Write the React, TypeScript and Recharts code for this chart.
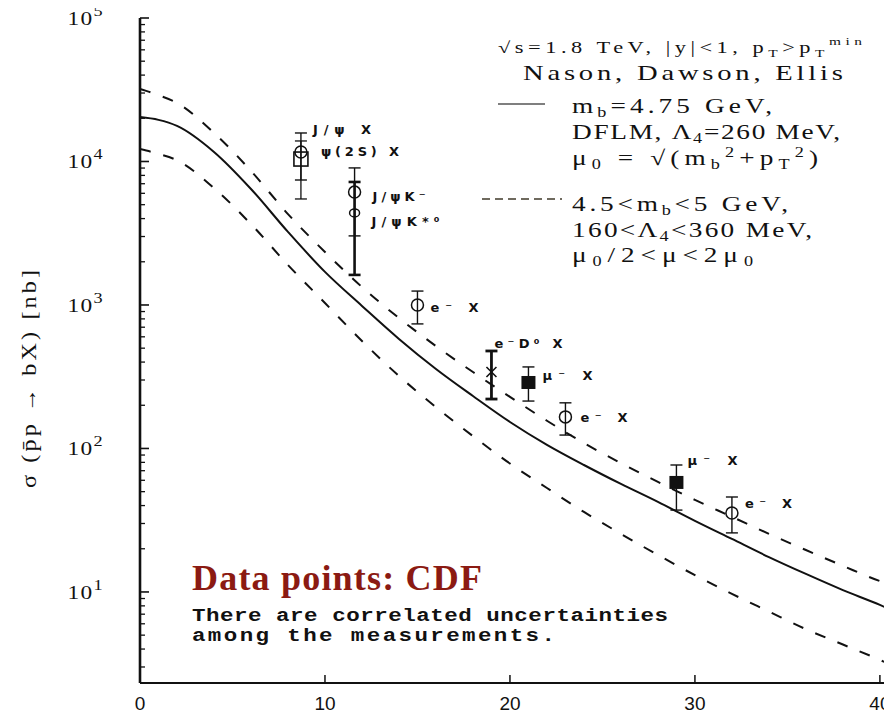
import React from 'react';
import { ComposedChart, Line, Scatter, ErrorBar, XAxis, YAxis } from 'recharts';

// theory curves (Nason, Dawson, Ellis), pT^min in GeV vs sigma in nb
const curvePt = [0, 1, 2, 4, 6, 8, 10, 12, 14, 16, 18, 20, 22, 24, 26, 28, 30, 32, 34, 36, 38, 40, 40.6];
const centralNb = [20400, 19500, 17700, 11650, 6430, 3230, 1700, 985, 580, 358, 232, 153, 106, 76.7, 56.6, 42.4, 31.3, 23.4, 17.5, 13.35, 10.3, 8.12, 7.5];
const upperNb = [32000, 29000, 25600, 15800, 8600, 4300, 2340, 1334, 811, 517, 341, 229, 156, 109, 79, 58.5, 43.8, 33.4, 25.4, 19.6, 15.2, 11.9, 11.2];
const lowerNb = [12200, 11300, 10200, 6530, 3660, 1900, 1033, 561, 320, 194, 122, 78.5, 53, 36.1, 25.4, 18.1, 13.1, 9.7, 7.3, 5.5, 4.3, 3.36, 3.1];

// CDF measurements, split by marker
const openCirclePts = [
  { pt: 8.7, sigma: 11650, lo: 7430, hi: 15800, label: 'J/ψ X' },
  { pt: 11.6, sigma: 6120, lo: 3030, hi: 9020, label: 'J/ψK⁻' },
  { pt: 15.0, sigma: 1000, lo: 738, hi: 1250, label: 'e⁻ X' },
  { pt: 23.0, sigma: 166, lo: 124, hi: 208, label: 'e⁻ X' },
  { pt: 32.0, sigma: 35.5, lo: 25.8, hi: 45.9, label: 'e⁻ X' },
];
const openSquarePts = [{ pt: 8.7, sigma: 10400, lo: 5480, hi: 13900, label: 'ψ(2S) X' }];
const ovalPts = [{ pt: 11.6, sigma: 4380, lo: 1620, hi: 7200, label: 'J/ψK*⁰' }];
const crossPts = [{ pt: 19.0, sigma: 341, lo: 221, hi: 478, label: 'e⁻D⁰ X' }];
const filledSquarePts = [
  { pt: 21.0, sigma: 286, lo: 214, hi: 370, label: 'μ⁻ X' },
  { pt: 29.0, sigma: 57.5, lo: 37.2, hi: 76.7, label: 'μ⁻ X' },
];

const xTicks = [0, 10, 20, 30, 40];
const yDecades = [10, 100, 1000, 10000, 100000];

const curveTable = curvePt.map((pt, i) => ({
  pt,
  central: centralNb[i],
  upper: upperNb[i],
  lower: lowerNb[i],
}));

const withErr = (rows: any[]) => rows.map((r) => ({ ...r, err: [r.sigma - r.lo, r.hi - r.sigma] }));

// minor log ticks 3..9 below 10, then 2..9 per decade
const yTicks: number[] = [];
[3, 4, 5, 6, 7, 8, 9].forEach((m) => yTicks.push(m));
yDecades.forEach((d) => {
  yTicks.push(d);
  if (d < 100000) for (let m = 2; m <= 9; m++) yTicks.push(d * m);
});

// label placement: dx, dy from marker centre, text width
const labelOffset: Record<string, [number, number, number]> = {
  'J/ψ X': [12, -18, 58],
  'ψ(2S) X': [20, -3, 78],
  'J/ψK⁻': [18, 9, 53],
  'J/ψK*⁰': [17, 13, 68],
  '15': [13, 7, 48],
  '19': [3, -24, 68],
  '21': [14, -3, 50],
  '23': [15, 5, 47],
  '29': [11, -18, 50],
  '32': [13, -5, 47],
};

const ink = '#111';
const serif = '"Liberation Serif", serif';

const PointLabel = ({ cx, cy, payload }: any) => {
  const off = labelOffset[payload.label] || labelOffset[String(payload.pt)] || [12, 0, 48];
  return (
    <text
      x={cx + off[0]}
      y={cy + off[1]}
      fontFamily='"DejaVu Sans", sans-serif'
      fontWeight="bold"
      fontSize={13}
      textLength={off[2]}
      lengthAdjust="spacing"
      fill={ink}
    >
      {payload.label}
    </text>
  );
};

const shapeOf = (kind: string) => (props: any) => {
  const { cx, cy } = props;
  let mark: React.ReactNode = null;
  if (kind === 'circle') mark = <circle cx={cx} cy={cy} r={6} fill="none" stroke={ink} strokeWidth={1.5} />;
  if (kind === 'square')
    mark = <rect x={cx - 7} y={cy - 7} width={14} height={14} fill="none" stroke={ink} strokeWidth={1.6} />;
  if (kind === 'oval') mark = <ellipse cx={cx} cy={cy} rx={5} ry={4} fill="none" stroke={ink} strokeWidth={1.5} />;
  if (kind === 'cross')
    mark = (
      <g stroke={ink} strokeWidth={1.6}>
        <line x1={cx - 5} y1={cy - 5} x2={cx + 5} y2={cy + 5} />
        <line x1={cx - 5} y1={cy + 5} x2={cx + 5} y2={cy - 5} />
      </g>
    );
  if (kind === 'filled') mark = <rect x={cx - 7} y={cy - 7} width={14} height={13} fill={ink} />;
  return (
    <g>
      {mark}
      <PointLabel {...props} />
    </g>
  );
};

const YTick = ({ x, y, payload }: any) => {
  const lg = Math.log10(payload.value);
  const exp = Math.round(lg);
  const major = Math.abs(lg - exp) < 1e-6;
  return (
    <g>
      <line x1={x} x2={x + (major ? 9 : 5)} y1={y} y2={y} stroke={ink} strokeWidth={major ? 1.6 : 1.3} />
      {major && (
        <text
          transform={`translate(${x - 36} ${y + 7}) scale(1.3 1)`}
          textAnchor="end"
          fontFamily={serif}
          fontSize={18}
          letterSpacing={1}
          fill={ink}
        >
          10
          <tspan dy={-9} fontSize={14}>
            {exp}
          </tspan>
        </text>
      )}
    </g>
  );
};

const XTick = ({ x, y, payload }: any) => (
  <g>
    {payload.value > 0 && <line x1={x} x2={x} y1={y} y2={y - 8} stroke={ink} strokeWidth={1.5} />}
    <text x={x} y={y + 27} textAnchor="middle" fontFamily='"Liberation Sans", sans-serif' fontSize={19} fill={ink}>
      {payload.value}
    </text>
  </g>
);

const TopTick = ({ x, y, payload }: any) =>
  payload.value > 0 ? <line x1={x} x2={x} y1={y} y2={y + 8} stroke={ink} strokeWidth={1.5} /> : <g />;

const ErrBars = ({ w }: { w: number }) => (
  <ErrorBar dataKey="err" direction="y" width={6} stroke={ink} strokeWidth={w} isAnimationActive={false} />
);

// text stretched horizontally to the width it has in the scan
const Wide = ({ x, y, w, sx, size, children, ...rest }: any) => (
  <text
    transform={`translate(${x} ${y}) scale(${sx} 1)`}
    fontSize={size}
    textLength={w / sx}
    lengthAdjust="spacing"
    {...rest}
  >
    {children}
  </text>
);

export default function App() {
  return (
    <div style={{ position: 'relative', width: 892, height: 719, margin: -8, background: '#fff' }}>
      <ComposedChart width={892} height={719} data={curveTable} margin={{ top: 18, right: 1, left: 0, bottom: 0 }}>
        <XAxis
          dataKey="pt"
          type="number"
          domain={[0, 40.6]}
          ticks={xTicks}
          allowDataOverflow
          height={36}
          tickSize={0}
          tickMargin={0}
          tickLine={false}
          axisLine={{ stroke: ink, strokeWidth: 2 }}
          tick={<XTick />}
          interval={0}
        />
        <XAxis
          xAxisId="top"
          orientation="top"
          dataKey="pt"
          type="number"
          domain={[0, 40.6]}
          ticks={xTicks}
          allowDataOverflow
          height={0}
          tickSize={0}
          tickMargin={0}
          tickLine={false}
          axisLine={{ stroke: '#333', strokeWidth: 1.5 }}
          tick={<TopTick />}
          interval={0}
        />
        <YAxis
          scale="log"
          type="number"
          domain={[2.32, 100000]}
          allowDataOverflow
          ticks={yTicks}
          interval={0}
          width={140}
          tickSize={0}
          tickMargin={0}
          tickLine={false}
          axisLine={{ stroke: ink, strokeWidth: 2.6 }}
          tick={<YTick />}
        />
        <Line dataKey="upper" type="monotone" stroke={ink} strokeWidth={2} strokeDasharray="11 13" dot={false} isAnimationActive={false} />
        <Line dataKey="lower" type="monotone" stroke={ink} strokeWidth={2} strokeDasharray="11 13" dot={false} isAnimationActive={false} />
        <Line dataKey="central" type="monotone" stroke={ink} strokeWidth={2} dot={false} isAnimationActive={false} />
        <Scatter data={withErr(openSquarePts)} dataKey="sigma" shape={shapeOf('square')} isAnimationActive={false}>
          {ErrBars({ w: 1.3 })}
        </Scatter>
        <Scatter data={withErr(openCirclePts)} dataKey="sigma" shape={shapeOf('circle')} isAnimationActive={false}>
          {ErrBars({ w: 1.4 })}
        </Scatter>
        <Scatter data={withErr(ovalPts)} dataKey="sigma" shape={shapeOf('oval')} isAnimationActive={false}>
          {ErrBars({ w: 2.6 })}
        </Scatter>
        <Scatter data={withErr(crossPts)} dataKey="sigma" shape={shapeOf('cross')} isAnimationActive={false}>
          {ErrBars({ w: 2.8 })}
        </Scatter>
        <Scatter data={withErr(filledSquarePts)} dataKey="sigma" shape={shapeOf('filled')} isAnimationActive={false}>
          {ErrBars({ w: 1.4 })}
        </Scatter>
      </ComposedChart>

      <svg width={892} height={719} style={{ position: 'absolute', left: 0, top: 0, pointerEvents: 'none' }}>
        <text
          transform="translate(36 379) rotate(-90) scale(1.15 1)"
          textAnchor="middle"
          fontFamily={serif}
          fontSize={21}
          textLength={218 / 1.15}
          lengthAdjust="spacing"
          fill={ink}
        >
          σ (p̄p → bX) [nb]
        </text>

        <g fontFamily={serif} fill={ink}>
          <Wide x={498} y={53} w={364} sx={1.4} size={16}>
            √s=1.8 TeV, |y|&lt;1, p<tspan fontSize={11} dy={4}>T</tspan>
            <tspan dy={-4}>&gt;p</tspan>
            <tspan fontSize={11} dy={4}>T</tspan>
            <tspan fontSize={11} dy={-12}>min</tspan>
          </Wide>
          <Wide x={523} y={80} w={320} sx={1.3} size={22}>
            Nason, Dawson, Ellis
          </Wide>
          <line x1={498} x2={545} y1={104} y2={104} stroke="#555" strokeWidth={1.5} />
          <Wide x={572} y={113} w={200} sx={1.3} size={21}>
            m<tspan fontSize={14} dy={4}>b</tspan>
            <tspan dy={-4}>=4.75 GeV,</tspan>
          </Wide>
          <Wide x={572} y={139} w={268} sx={1.3} size={21}>
            DFLM, Λ<tspan fontSize={14} dy={4}>4</tspan>
            <tspan dy={-4}>=260 MeV,</tspan>
          </Wide>
          <Wide x={572} y={165} w={246} sx={1.3} size={21}>
            μ<tspan fontSize={14} dy={4}>0</tspan>
            <tspan dy={-4}> = √(m</tspan>
            <tspan fontSize={14} dy={4}>b</tspan>
            <tspan fontSize={14} dy={-12}>2</tspan>
            <tspan dy={8}>+p</tspan>
            <tspan fontSize={14} dy={4}>T</tspan>
            <tspan fontSize={14} dy={-12}>2</tspan>
            <tspan dy={8}>)</tspan>
          </Wide>
          <line x1={482} x2={562} y1={199} y2={199} stroke="#6f6a5e" strokeWidth={2} strokeDasharray="8 5" />
          <Wide x={572} y={211} w={216} sx={1.3} size={21}>
            4.5&lt;m<tspan fontSize={14} dy={4}>b</tspan>
            <tspan dy={-4}>&lt;5 GeV,</tspan>
          </Wide>
          <Wide x={572} y={237} w={240} sx={1.3} size={21}>
            160&lt;Λ<tspan fontSize={14} dy={4}>4</tspan>
            <tspan dy={-4}>&lt;360 MeV,</tspan>
          </Wide>
          <Wide x={572} y={262} w={181} sx={1.3} size={21}>
            μ<tspan fontSize={14} dy={4}>0</tspan>
            <tspan dy={-4}>/2&lt;μ&lt;2μ</tspan>
            <tspan fontSize={14} dy={4}>0</tspan>
          </Wide>
        </g>

        <text
          x={192}
          y={590}
          fontFamily={serif}
          fontWeight="bold"
          fontSize={36}
          textLength={290}
          lengthAdjust="spacing"
          fill="#8b1a12"
        >
          Data points: CDF
        </text>
        <g fontFamily='"Liberation Mono", monospace' fontWeight="bold" fill={ink}>
          <Wide x={192} y={621} w={476} sx={1.25} size={18}>
            There are correlated uncertainties
          </Wide>
          <Wide x={192} y={641} w={363} sx={1.25} size={18}>
            among the measurements.
          </Wide>
        </g>
      </svg>
    </div>
  );
}
